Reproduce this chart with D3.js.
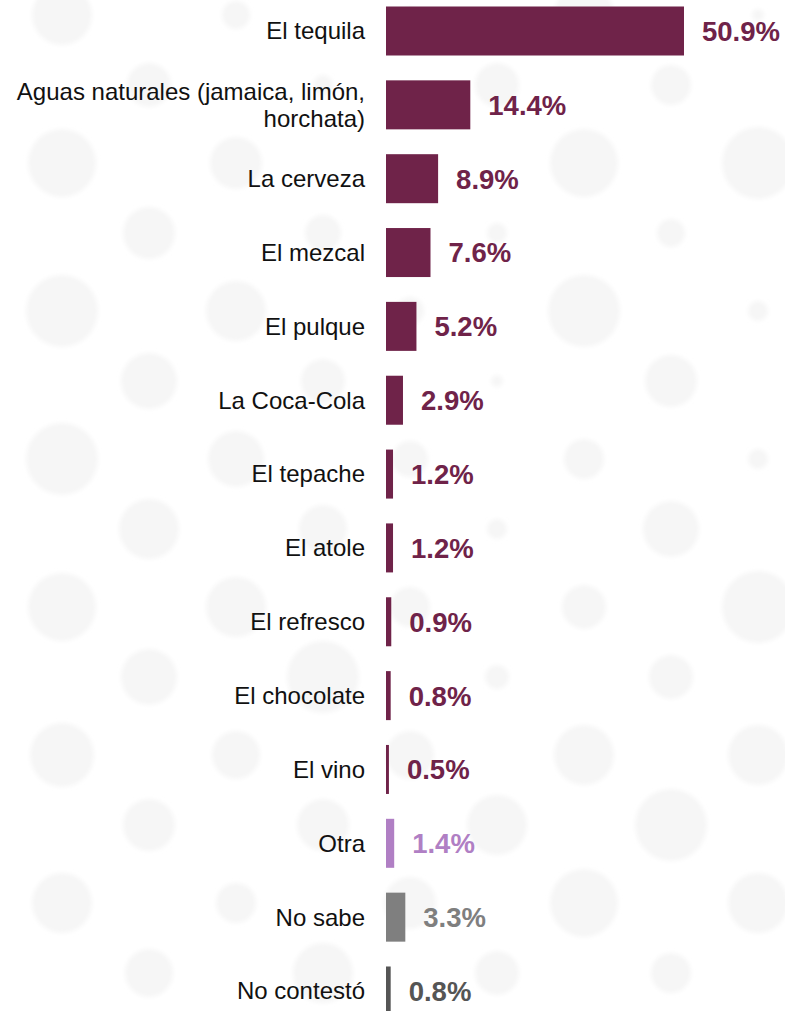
<!DOCTYPE html>
<html>
<head>
<meta charset="utf-8">
<script src="https://cdn.jsdelivr.net/npm/d3@7"></script>
<style>
  html, body { margin: 0; padding: 0; background: #fff; }
  svg { display: block; }
</style>
</head>
<body>
<div id="chart"></div>
<script>
'use strict'

// Data
const categories = ['El tequila', 'Aguas naturales (jamaica, limón, horchata)', 'La cerveza',
  'El mezcal', 'El pulque', 'La Coca-Cola', 'El tepache', 'El atole', 'El refresco',
  'El chocolate', 'El vino', 'Otra', 'No sabe', 'No contestó']
const values = [50.9, 14.4, 8.9, 7.6, 5.2, 2.9, 1.2, 1.2, 0.9, 0.8, 0.5, 1.4, 3.3, 0.8]
const groups = ['main', 'main', 'main', 'main', 'main', 'main', 'main', 'main', 'main',
  'main', 'main', 'other', 'ns', 'nc']

// decoration: background dot radii per column (top to bottom)
const dotRadii = [
  [30, 34, 36, 36, 34, 32, 30],
  [22, 26, 28, 30, 28, 26, 24],
  [14, 26, 30, 28, 30, 24, 20],
  [10, 18, 22, 24, 36, 26, 30],
  [8, 6, 14, 18, 20, 24, 26],
  [22, 10, 6, 10, 12, 30, 22],
  [30, 34, 36, 20, 22, 30, 34],
  [20, 14, 26, 28, 22, 36, 20],
  [6, 36, 10, 10, 36, 30, 30]
]

const width = 785,
  height = 1011,
  barLeft = 386

const colors = { main: '#6f2349', other: '#b07fc4', ns: '#7f7f7f', nc: '#555555' }

let svg = d3.select('#chart')
  .append('svg')
  .attr('width', width)
  .attr('height', height)

svg.append('defs')
  .append('filter')
  .attr('id', 'soft')
  .append('feGaussianBlur')
  .attr('stdDeviation', 2)

// faint dotted background
let bg = svg.append('g').attr('filter', 'url(#soft)')
dotRadii.forEach((col, i) => {
  col.forEach((r, j) => {
    bg.append('circle')
      .attr('cx', 62 + i * 87)
      .attr('cy', (i % 2 ? 85 : 15) + j * 148)
      .attr('r', r)
      .attr('fill', '#f6f6f6')
  })
})

const x = d3.scaleLinear()
  .domain([0, 50.9])
  .range([barLeft, 684])

const y = d3.scalePoint()
  .domain(categories)
  .range([31, 991])

const barH = 49

let rows = svg.selectAll('g.row')
  .data(categories)
  .enter()
  .append('g')
  .attr('class', 'row')

rows.append('rect')
  .attr('x', barLeft)
  .attr('y', (d) => y(d) - barH / 2)
  .attr('width', (d, i) => x(values[i]) - barLeft)
  .attr('height', barH)
  .attr('fill', (d, i) => colors[groups[i]])

rows.append('text')
  .attr('x', (d, i) => x(values[i]) + 18)
  .attr('y', (d) => y(d))
  .attr('dy', '0.36em')
  .attr('font-family', 'Liberation Sans, Arial, sans-serif')
  .attr('font-weight', 'bold')
  .attr('font-size', 27.5)
  .attr('fill', (d, i) => colors[groups[i]])
  .text((d, i) => values[i].toFixed(1) + '%')

// category labels, the long one wraps
rows.append('text')
  .attr('x', 365)
  .attr('y', (d) => y(d))
  .attr('text-anchor', 'end')
  .attr('font-family', 'Liberation Sans, Arial, sans-serif')
  .attr('font-size', 24)
  .attr('fill', '#111')
  .each(function (d) {
    let lines = d.startsWith('Aguas') ? ['Aguas naturales (jamaica, limón,', 'horchata)'] : [d]
    let t = d3.select(this)
    lines.forEach((l, k) => {
      t.append('tspan')
        .attr('x', 365)
        .attr('dy', k === 0 ? (0.35 - (lines.length - 1) * 0.56) + 'em' : '1.12em')
        .text(l)
    })
  })
</script>
</body>
</html>
